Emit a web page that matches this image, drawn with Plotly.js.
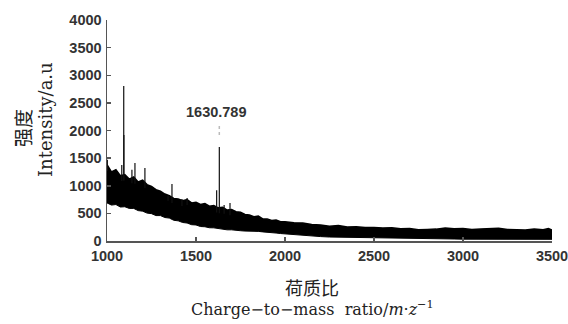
<!DOCTYPE html>
<html>
<head>
<meta charset="utf-8">
<script src="https://cdn.plot.ly/plotly-3.0.1.min.js"></script>
<style>html,body{margin:0;padding:0;background:#fff;}#chart{width:568px;height:324px;}</style>
</head>
<body>
<div id="chart"></div>
<script>
// Noise band of the spectrum: upper and lower envelope
var envMz    = [1000,1025,1050,1075,1100,1125,1150,1175,1200,1225,1250,1275,1300,1325,1350,1375,1400,1425,1450,1475,1500,1525,1550,1575,1600,1625,1650,1675,1700,1725,1750,1775,1800,1825,1850,1875,1900,1925,1950,1975,2000,2050,2100,2150,2200,2250,2300,2350,2400,2450,2500,2550,2600,2650,2700,2750,2800,2850,2900,2950,3000,3050,3100,3150,3200,3250,3300,3350,3400,3450,3480,3500];
var envUpper = [1380,1250,1290,1180,1200,1120,1160,1070,1100,1020, 990, 930, 900, 850, 820, 770, 760, 730, 750, 690, 700, 660, 680, 630, 640, 600, 610, 560, 570, 530, 520, 480, 470, 440, 450, 400, 400, 370, 380, 350, 350, 330, 325, 300, 290, 265, 280, 255, 260, 245, 245, 235, 240, 220, 225, 205, 210, 215, 235, 220, 225, 210, 215, 225, 230, 210, 205, 200, 215, 205, 225, 200];
var envLower = [ 690, 650, 660, 615, 620, 590, 590, 550, 540, 505, 495, 460, 460, 425, 415, 375, 365, 335, 325, 295, 290, 262, 258, 240, 238, 222, 218, 202, 202, 188, 186, 180, 182, 176, 174, 165, 162, 150, 144, 135, 128, 112,  98,  88,  80,  72,  70,  68,  66,  64,  62,  60,  60,  58,  57,  56,  55,  48,  40,  36,  33,  32,  31,  30,  30,  30,  30,  30,  30,  30,  30,  30];

// Distinct peaks rising above the noise band
var peakMz = [1002,1083,1094,1095,1140,1157,1213,1343,1365,1421,1450,1616,1631,1658,1691];
var peakH  = [1470,1375,2806,1920,1290,1410,1320, 815,1030, 760, 780, 920,1700, 650, 690];

var labelText = "1630.789";
var labelMz = 1631;

var xTicks = [1000,1500,2000,2500,3000,3500];
var yTicks = [0,500,1000,1500,2000,2500,3000,3500,4000];

// peaks start just inside the top of the noise band
function bandTopAt(m) {
  for (var k = 1; k < envMz.length; k++) {
    if (m <= envMz[k]) {
      var t = (m - envMz[k - 1]) / (envMz[k] - envMz[k - 1]);
      return envUpper[k - 1] + t * (envUpper[k] - envUpper[k - 1]);
    }
  }
  return envUpper[envUpper.length - 1];
}
var px = [], py = [];
for (var i = 0; i < peakMz.length; i++) {
  px.push(peakMz[i], peakMz[i], null);
  py.push(bandTopAt(peakMz[i]) - 100, peakH[i], null);
}
var labelH = peakH[peakMz.indexOf(labelMz)];

var traces = [
  {x: envMz, y: envLower, type: 'scatter', mode: 'lines', line: {color: '#000', width: 1}, hoverinfo: 'skip'},
  {x: envMz, y: envUpper, type: 'scatter', mode: 'lines', fill: 'tonexty', fillcolor: '#000', line: {color: '#000', width: 1.5}, hoverinfo: 'skip'},
  {x: px, y: py, type: 'scatter', mode: 'lines', line: {color: '#111', width: 1.2}, hoverinfo: 'skip'}
];

var tickFont = {family: 'Liberation Sans, Arial, sans-serif', size: 14.5, color: '#333', weight: 'bold'};

var layout = {
  width: 568, height: 324,
  margin: {l: 107, r: 16, t: 20, b: 83, pad: 0},
  paper_bgcolor: '#fff', plot_bgcolor: '#fff',
  showlegend: false,
  xaxis: {
    range: [1000, 3500], tickvals: xTicks, ticktext: xTicks.map(String),
    showgrid: false, zeroline: false, showline: true, linecolor: '#555', linewidth: 1.5,
    ticks: 'inside', ticklen: 4, tickcolor: '#555', tickwidth: 1.5, ticklabelstandoff: 1,
    ticklabeloverflow: 'allow',
    tickfont: tickFont, fixedrange: true
  },
  yaxis: {
    range: [0, 4000], tickvals: yTicks, ticktext: yTicks.map(String),
    showgrid: false, zeroline: false, showline: true, linecolor: '#555', linewidth: 1.5,
    ticks: 'inside', ticklen: 4, tickcolor: '#555', tickwidth: 1.5, ticklabelstandoff: 1,
    ticklabeloverflow: 'allow',
    tickfont: tickFont, fixedrange: true
  },
  shapes: [
    {type: 'line', xref: 'x', yref: 'y', x0: labelMz, x1: labelMz, y0: labelH + 220, y1: labelH + 420,
     line: {color: '#bbb', width: 1.5, dash: 'dot'}}
  ],
  annotations: [
    {x: labelMz, y: labelH + 640, xref: 'x', yref: 'y', text: labelText, showarrow: false, xshift: -3,
     font: {family: 'Liberation Sans, Arial, sans-serif', size: 14.5, color: '#333', weight: 'bold'}},
    {x: 22, y: 128, xref: 'paper', yref: 'paper', text: '强度', showarrow: false, textangle: -90,
     font: {family: 'Noto Sans CJK SC', size: 19, color: '#222'}},
    {x: 46, y: 120, xref: 'paper', yref: 'paper', text: 'Intensity/a.u', showarrow: false, textangle: -90,
     font: {family: 'DejaVu Serif', size: 18, color: '#222'}},
    {x: 312, y: 287, xref: 'paper', yref: 'paper', text: '荷质比', showarrow: false,
     font: {family: 'Noto Sans CJK SC', size: 18, color: '#222'}},
    {x: 312, y: 308, xref: 'paper', yref: 'paper', text: 'Charge\u2212to\u2212mass&nbsp;&nbsp;ratio/<i>m</i>\u00b7<i>z</i><sup>\u22121</sup>', showarrow: false,
     font: {family: 'DejaVu Serif', size: 16, color: '#222'}}
  ]
};

// convert pixel positions of title annotations to paper coordinates, centred
var plotW = 568 - 107 - 16, plotH = 324 - 20 - 83;
layout.annotations.forEach(function (a) {
  if (a.xref === 'paper') {
    a.x = (a.x - 107) / plotW;
    a.y = 1 - (a.y - 20) / plotH;
  }
  a.xanchor = 'center';
  a.yanchor = 'middle';
});

Plotly.newPlot('chart', traces, layout, {displayModeBar: false, staticPlot: true});
</script>
</body>
</html>
